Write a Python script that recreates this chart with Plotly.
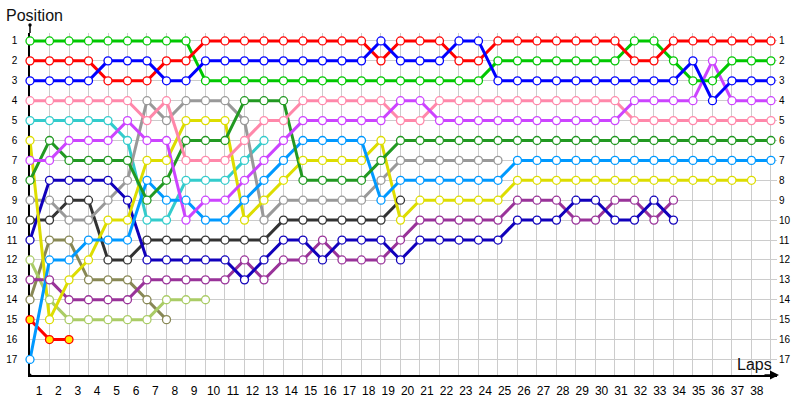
import plotly.graph_objects as go

# ---------------- data (position per lap, starting at lap 0 = grid) ----------------
laps = list(range(0, 39))
lap_labels = [str(n) for n in range(1, 39)]
positions = list(range(1, 18))

green = [1,1,1,1,1,1,1,1,1, 3,3,3,3,3,3,3,3,3,3,3,3,3,3,3, 2,2,2,2,2,2,2, 1,1, 2, 3,3, 2,2,2]
red = [2,2,2,2, 3,3,3, 2,2, 1,1,1,1,1,1,1,1,1, 2, 1,1,1, 2,2, 1,1,1,1,1,1,1, 2,2, 1,1,1,1,1,1]
blue = [3,3,3,3, 2,2,2, 3,3, 2,2,2,2,2,2,2,2,2, 1, 2,2,2, 1,1, 3,3,3,3,3,3,3,3,3,3, 2, 4, 3,3,3]
pink = [4,4,4,4,4,4, 5, 4, 7,7,7, 6, 5,5, 4,4,4,4,4, 5,5, 4,4,4,4,4,4,4,4,4,4, 5,5,5,5,5,5,5,5]
purple = [7,7,6,6,6,5,6,6,10,9,9,8,7,6, 5,5,5,5,5, 4,4, 5,5,5,5,5,5,5,5,5,5, 4,4,4,4, 2, 4,4,4]
cyan = [5,5,5,5,5, 6, 10,10, 8,8,8, 7, 6]
dark_green = [8,6,7,7,7,7,9,8,6,6,6,4,4,4, 8,8,8,8, 7] + [6] * 20
yellow = [6,15,13,12,10,10,7,7,5,5,5,10,9,8,7,7,7,7,6,10, 9,9,9,9,9] + [8] * 13
navy = [11,8,8,8,8,9,12,12,12,12,12,13,12,11,11,12,11,11,11,12, 11,11,11,11,11, 10,10,10, 9,9, 10,10, 9, 10]
gray = [9,9,10,10,9,8,4,5,4,4,4,5,10, 9,9,9,9,9, 8, 7,7,7,7,7,7]
dark_gray = [10,10,9,9,12,12,11, 11,11,11,11,11,11, 10,10,10,10,10,10, 9]
olive = [14,11,11,13,13,13,14,15]
light_blue = [17,12,12,11,11,11,8,9,9,10,10,9,8,7, 6,6,6,6, 9, 8,8,8,8,8,8] + [7] * 14
dark_magenta = [13,13,14,14,14,14,13,13,13,13,13,12,13,12,12,11,12,12,12,11, 10,10,10,10,10, 9,9,9, 10,10, 9,9, 10, 9]
light_green = [12,14,15,15,15,15,15,14,14,14]
red_yellow = [15,16,16]

drivers = [
    (cyan, "#33cccc", "white"),
    (olive, "#888855", "white"),
    (light_green, "#aacc66", "white"),
    (red_yellow, "#ff0000", "#ffee00"),
    (dark_gray, "#333333", "white"),
    (gray, "#999999", "white"),
    (dark_magenta, "#993399", "white"),
    (navy, "#1100bb", "white"),
    (yellow, "#dddd00", "white"),
    (light_blue, "#0099ff", "white"),
    (dark_green, "#229922", "white"),
    (pink, "#ff88aa", "white"),
    (purple, "#cc44ff", "white"),
    (green, "#00c800", "white"),
    (red, "#ff0000", "white"),
    (blue, "#0000ff", "white"),
]

fig = go.Figure()
for pos, color, fill in drivers:
    fig.add_trace(go.Scatter(x=laps[:len(pos)], y=pos, mode="lines",
                             line=dict(color=color, width=3),
                             hoverinfo="skip", showlegend=False, cliponaxis=False))
for pos, color, fill in drivers:
    fig.add_trace(go.Scatter(x=laps[:len(pos)], y=pos, mode="markers",
                             marker=dict(size=8, color=fill, line=dict(color=color, width=1.3)),
                             hoverinfo="skip", showlegend=False, cliponaxis=False))
# invisible trace for the right-hand position axis
fig.add_trace(go.Scatter(x=[0], y=[1], yaxis="y2", mode="markers",
                         marker=dict(opacity=0), hoverinfo="skip", showlegend=False))

# ---------------- layout ----------------
L, R, T, B = 30, 23, 33, 25
W, H = 800, 400
pw, ph = W - L - R, H - T - B
label_pos = [0.46 + (n - 1) * 0.995 for n in range(1, 39)]

font = "Liberation Sans, Arial, sans-serif"
fig.update_layout(
    width=W, height=H,
    margin=dict(l=L, r=R, t=T, b=B, autoexpand=False),
    paper_bgcolor="white", plot_bgcolor="white",
    font=dict(family=font, color="#000000"),
    xaxis=dict(range=[0, 38.31], showgrid=False, zeroline=False, automargin=False,
               tickmode="array", tickvals=label_pos, ticktext=lap_labels,
               ticks="", tickfont=dict(size=12), ticklabelstandoff=4,
               showline=True, linecolor="black", linewidth=1.5, layer="below traces",
               minor=dict(tick0=0, dtick=1, showgrid=True, gridcolor="#cccccc", gridwidth=1, ticks="")),
    yaxis=dict(range=[17.78, 0.6], tickmode="array", tickvals=positions, automargin=False,
               ticktext=[str(p) for p in positions], showgrid=True, gridcolor="#cccccc",
               gridwidth=1, zeroline=False, ticks="", tickfont=dict(size=10),
               ticklabelstandoff=9, showline=True, linecolor="black", linewidth=1.5,
               layer="below traces"),
    yaxis2=dict(range=[17.78, 0.6], overlaying="y", side="right", tickmode="array",
                tickvals=positions, ticktext=[str(p) for p in positions], automargin=False,
                showgrid=False, zeroline=False, ticks="", tickfont=dict(size=10),
                showline=False, ticklabelstandoff=1),
)

def px_x(x):
    return (x - L) / pw

def px_y(y):
    return (H - B - y) / ph

fig.add_annotation(text="Position", xref="paper", yref="paper", x=px_x(4), y=px_y(15),
                   xanchor="left", yanchor="middle", showarrow=False,
                   font=dict(size=16, color="#111111", family=font))
fig.add_annotation(text="Laps", xref="paper", yref="paper", x=px_x(774), y=px_y(364),
                   xanchor="right", yanchor="middle", showarrow=False,
                   font=dict(size=16, color="#111111", family=font))
# x-axis arrow
fig.add_annotation(text="", xref="paper", yref="paper", x=px_x(779), y=0,
                   ax=-16, ay=0, showarrow=True, arrowhead=2, arrowsize=1.2,
                   arrowwidth=1.5, arrowcolor="black")
# y-axis extension above plot, with end dots
fig.add_shape(type="line", xref="paper", yref="paper", x0=0, x1=0, y0=1, y1=px_y(25),
              line=dict(color="black", width=1.5))
fig.add_shape(type="circle", xref="paper", yref="paper", x0=px_x(28.3), x1=px_x(31.7),
              y0=px_y(26.7), y1=px_y(23.3), fillcolor="black", line=dict(color="black", width=0))
fig.add_shape(type="circle", xref="paper", yref="paper", x0=px_x(28.5), x1=px_x(31.5),
              y0=px_y(376.5), y1=px_y(373.5), fillcolor="black", line=dict(color="black", width=0))

fig.write_html("out.html",
               config={"displayModeBar": False},
               post_script="document.body.style.margin='0';document.body.style.overflow='hidden';")
